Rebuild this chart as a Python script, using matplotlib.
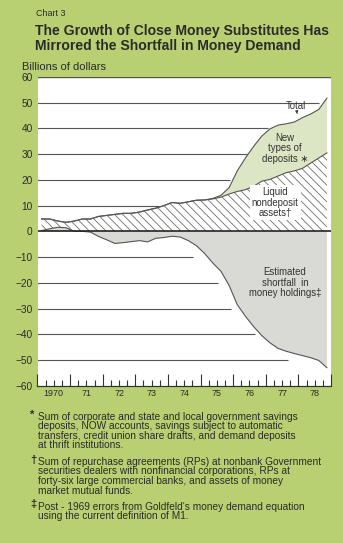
import numpy as np
import matplotlib.pyplot as plt
import matplotlib.transforms as mtransforms

plt.rcParams['font.family'] = ['Liberation Sans', 'DejaVu Sans']
plt.rcParams['hatch.linewidth'] = 0.6
plt.rcParams['hatch.color'] = '#6e6e6e'

# quarterly observations, 1970 Q1 .. 1978 Q4 (plotted mid-quarter)
years = list(range(1970, 1979))
quarters = [y + (q + 0.5) / 4 for y in years for q in range(4)]

# billions of dollars
liquid = [4.8, 4.8, 4.0, 3.5, 4.0, 4.8, 4.8, 5.8, 6.2, 6.6, 7.0, 7.0,
          7.5, 8.3, 9.0, 10.0, 11.2, 10.9, 11.5, 12.1, 12.2, 12.6, 13.3, 14.5,
          15.5, 16.2, 17.5, 19.5, 20.2, 21.5, 22.8, 23.5, 24.5, 26.5, 28.5, 30.5]
total = [4.8, 4.8, 4.0, 3.5, 4.0, 4.8, 4.8, 5.8, 6.2, 6.6, 7.0, 7.0,
         7.5, 8.3, 9.0, 10.0, 11.2, 10.9, 11.5, 12.1, 12.2, 12.8, 14.0, 17.0,
         23.5, 28.5, 33.0, 37.0, 39.8, 41.3, 41.8, 42.5, 44.2, 45.6, 47.4, 51.8]
shortfall = [0.3, 1.0, 1.6, 1.4, 0.0, 0.0, -0.3, -2.0, -3.3, -4.7, -4.4, -4.0,
             -3.6, -4.1, -2.7, -2.4, -1.9, -2.2, -3.6, -5.6, -8.6, -12.3, -15.5, -21.0,
             -28.5, -33.0, -37.0, -40.5, -43.3, -45.5, -46.6, -47.5, -48.3, -49.1, -50.2, -53.0]

year_labels = ['1970', '71', '72', '73', '74', '75', '76', '77', '78']
grid_levels = [50, 40, 30, 20, 10, -10, -20, -30, -40, -50]
grid_ends = [1978.63, 1977.07, 1976.49, 1975.90, 1973.82,
             1974.77, 1975.54, 1975.94, 1976.67, 1977.68]

W, H = 343, 543
bg = '#b8d072'
ink = '#2b2b2b'

fig = plt.figure(figsize=(W / 100, H / 100), dpi=100, facecolor=bg)


def px(x, y):
    return x / W, 1 - y / H


ax = fig.add_axes([37.5 / W, 1 - 385.7 / H, (331 - 37.5) / W, (385.7 - 77) / H])
ax.set_facecolor('white')
ax.set_xlim(1970, 1979)
ax.set_ylim(-60, 60)

x = np.array(quarters)
liq = np.array(liquid)
tot = np.array(total)
sf = np.array(shortfall)

# liquid nondeposit assets (hatched)
ax.fill_between(x, 0, liq, facecolor='white', hatch='\\\\\\\\', edgecolor='#6e6e6e',
                linewidth=0, zorder=2)
# new types of deposits
ax.fill_between(x, liq, tot, where=tot > liq + 0.05, interpolate=True,
                facecolor='#dde6c4', linewidth=0, zorder=2)
# shortfall
ax.fill_between(x, 0, sf, facecolor='#d9d9d5', linewidth=0, zorder=3)

ax.plot(x, liq, color='#555555', lw=0.8, zorder=4)
ax.plot(x, tot, color='#555555', lw=0.8, zorder=4)
ax.plot(x, sf, color='#555555', lw=0.8, zorder=4)

ax.hlines(grid_levels, 1970, grid_ends, colors='#555555', lw=0.8, zorder=1)
ax.axhline(0, color='#222222', lw=1.2, zorder=5)
ax.axhline(60, color='#555555', lw=1.0, zorder=5)

for s in ['left', 'right', 'top']:
    ax.spines[s].set_visible(False)
ax.spines['bottom'].set_color('#333333')
ax.spines['bottom'].set_linewidth(0.9)

yt = list(range(-60, 61, 10))
ax.set_yticks(yt)
ax.set_yticklabels([str(v).replace('-', '\u2212') for v in yt], color=ink)
ax.tick_params(axis='y', length=0, pad=3.5, labelsize=7.3)

ax.set_xticks(range(1970, 1980))
ax.set_xticks([y + q / 4 for y in years for q in range(1, 4)], minor=True)
ax.tick_params(axis='x', which='major', direction='in', length=8.5, width=0.8,
               color='#333333', labelbottom=False)
ax.tick_params(axis='x', which='minor', direction='in', length=4.5, width=0.8,
               color='#333333')

trans = mtransforms.blended_transform_factory(ax.transData, ax.transAxes)
for y, lab in zip(years, year_labels):
    ax.text(y + 0.5, -0.025, lab, transform=trans, ha='center', va='center',
            fontsize=6.5, color=ink)

# labels inside the chart
lab_kw = dict(ha='center', va='center', fontsize=6.9, color='#333333', zorder=6,
              linespacing=1.05)
ax.text(1977.93, 48.6, 'Total', **lab_kw)
ax.annotate('', xy=(1977.97, 44.6), xytext=(1977.95, 46.9),
            arrowprops=dict(arrowstyle='-|>', color='#333333', lw=0.6,
                            mutation_scale=4), zorder=6)
ax.text(1977.59, 32.3, 'New\ntypes of\ndeposits \u2217', **lab_kw)
ax.text(1977.29, 11.2, 'Liquid\nnondeposit\nassets\u2020',
        bbox=dict(facecolor='white', edgecolor='none', pad=1.5), **lab_kw)
ax.text(1977.59, -19.9, 'Estimated\nshortfall  in\nmoney holdings\u2021', **lab_kw)

# heading
fig.text(*px(36, 13), 'Chart 3', fontsize=6.5, color=ink, va='center')
fig.text(*px(35, 31), 'The Growth of Close Money Substitutes Has',
         fontsize=10.1, fontweight='bold', color=ink, va='center')
fig.text(*px(35, 46), 'Mirrored the Shortfall in Money Demand',
         fontsize=10.1, fontweight='bold', color=ink, va='center')
fig.text(*px(22, 67), 'Billions of dollars', fontsize=8, color=ink, va='center')

# footnotes
notes = [
    ('*', 414.5, [
        'Sum of corporate and state and local government savings',
        'deposits, NOW accounts, savings subject to automatic',
        'transfers, credit union share drafts, and demand deposits',
        'at thrift institutions.']),
    ('\u2020', 459.5, [
        'Sum of repurchase agreements (RPs) at nonbank Government',
        'securities dealers with nonfinancial corporations, RPs at',
        'forty-six large commercial banks, and assets of money',
        'market mutual funds.']),
    ('\u2021', 504.5, [
        'Post - 1969 errors from Goldfeld\'s money demand equation',
        'using the current definition of M1.']),
]
for sym, y0, lines in notes:
    fig.text(*px(30.5, y0), sym, fontsize=8, fontweight='bold', color=ink, va='center')
    for k, line in enumerate(lines):
        fig.text(*px(38.5, y0 + 2.2 + 9.6 * k), line, fontsize=7.3, color=ink,
                 va='center')

fig.savefig('out.png', dpi=100, facecolor=bg)
